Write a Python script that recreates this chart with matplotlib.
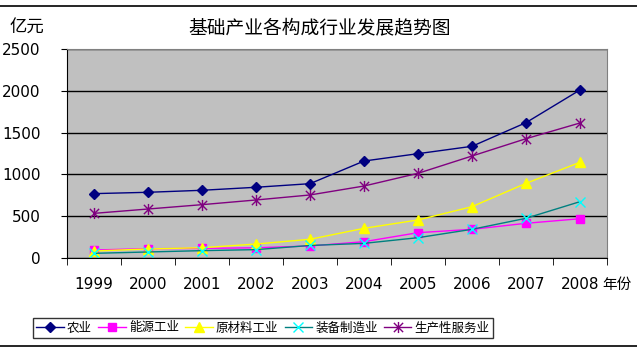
import matplotlib
matplotlib.use("Agg")
import matplotlib.pyplot as plt
from matplotlib.lines import Line2D
from matplotlib.path import Path
import numpy as np

plt.rcParams['font.family'] = ['Noto Sans CJK SC', 'DejaVu Sans']

# ─── Dados ───────────────────────────────────────────────────────────────────
years = ["1999", "2000", "2001", "2002", "2003", "2004", "2005", "2006", "2007", "2008"]
agri     = [770, 786, 810, 846, 889, 1160, 1248, 1336, 1619, 2010]
energy   = [96, 111, 115, 122, 144, 195, 303, 343, 415, 470]
material = [84, 108, 123, 167, 224, 355, 455, 614, 893, 1145]
equip    = [56, 72, 88, 100, 150, 175, 243, 343, 475, 674]
service  = [534, 586, 638, 694, 754, 861, 1013, 1220, 1427, 1615]
names = ["农业", "能源工业", "原材料工业", "装备制造业", "生产性服务业"]

# marcador estrela do Excel: x + barra vertical
star = Path([(-1, -1), (1, 1), (-1, 1), (1, -1), (0, -1.2), (0, 1.2)],
            [Path.MOVETO, Path.LINETO, Path.MOVETO, Path.LINETO, Path.MOVETO, Path.LINETO])

fig = plt.figure(figsize=(6.37, 3.52), dpi=100)
ax = fig.add_axes([67 / 637, 1 - 258 / 352, 540 / 637, 209 / 352])
ax.set_facecolor("#C0C0C0")

x = np.arange(len(years))
series = [
    (agri,     dict(color="#000080", marker="D", ms=5, mfc="#000080", mec="#000080")),
    (energy,   dict(color="#FF00FF", marker="s", ms=6, mfc="#FF00FF", mec="#FF00FF")),
    (material, dict(color="#FFFF00", marker="^", ms=7, mfc="#FFFF00", mec="#FFFF00")),
    (equip,    dict(color="#008080", marker="x", ms=7, mec="#00FFFF", mew=1.0)),
    (service,  dict(color="#800080", marker=star, ms=8, mec="#800080", mew=1.0)),
]
handles = []
for (vals, st), name in zip(series, names):
    h, = ax.plot(x, vals, lw=1.0, label=name, **st)
    handles.append(h)

ax.set_xlim(-0.5, len(years) - 0.5)
ax.set_ylim(0, 2500)
ax.set_yticks(np.arange(0, 2501, 500))
ax.set_xticks(x)
ax.set_xticklabels(years, fontsize=11, family="DejaVu Sans")
ax.set_xticks(np.arange(-0.5, len(years), 1), minor=True)
ax.tick_params(axis="x", which="major", length=0, pad=14)
ax.tick_params(axis="x", which="minor", length=5, direction="out", color="black")
ax.tick_params(axis="y", length=4, direction="out", labelsize=11, pad=15)
for lab in ax.get_yticklabels():
    lab.set_family("DejaVu Sans")
ax.grid(axis="y", color="black", lw=1.0)
ax.set_axisbelow(True)
for side in ("top", "right"):
    ax.spines[side].set_color("#808080")
ax.spines["left"].set_color("black")
ax.spines["bottom"].set_color("black")

fig.text(320 / 637, 1 - 28 / 352, "基础产业各构成行业发展趋势图", fontsize=13.5,
         ha="center", va="center")
fig.text(10 / 637, 1 - 28 / 352, "亿元", fontsize=12.5, ha="left", va="center")
fig.text(602 / 637, 1 - 285 / 352, "年份", fontsize=10.5, ha="left", va="center")

leg = fig.legend(handles=handles, ncol=5, loc="center",
                 bbox_to_anchor=(263 / 637, 1 - 328 / 352), fontsize=9,
                 frameon=True, fancybox=False, edgecolor="black",
                 handlelength=2.2, handletextpad=0.25, columnspacing=0.5,
                 borderpad=0.3, borderaxespad=0)
leg.get_frame().set_linewidth(1.0)

for yy in (6, 346):
    fig.add_artist(Line2D([0, 1], [1 - yy / 352] * 2, color="black", lw=1.2,
                          transform=fig.transFigure))

fig.savefig("out.png", dpi=100)
